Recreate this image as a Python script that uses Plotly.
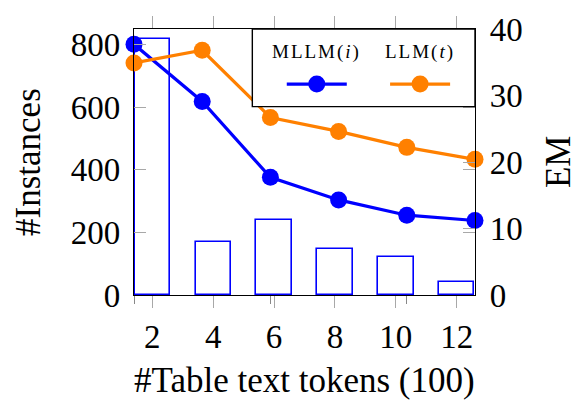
import plotly.graph_objects as go

# Token-length bins (hundreds of table text tokens)
token_bins = [2, 4, 6, 8, 10, 12]
# Number of instances per bin (left axis)
instances = [818, 168, 239, 147, 120, 42]
# Exact-match scores (right axis)
em_mllm = [37.7, 29.1, 17.7, 14.3, 12.0, 11.2]
em_llm = [34.9, 36.8, 26.7, 24.6, 22.2, 20.4]

BLUE = "#0000FF"
ORANGE = "#FF8000"
TICK_GRAY = "#a8a8a8"
FONT = "Liberation Serif"

fig = go.Figure()

fig.add_trace(go.Bar(
    x=token_bins, y=instances, width=1.16,
    marker=dict(color="rgba(0,0,0,0)", line=dict(color=BLUE, width=1.6)),
    xaxis="x", yaxis="y", showlegend=False,
))

fig.add_trace(go.Scatter(
    x=token_bins, y=em_mllm, mode="lines+markers", name="MLLM(i)",
    line=dict(color=BLUE, width=3.2), marker=dict(color=BLUE, size=17),
    xaxis="x2", yaxis="y2", cliponaxis=False, showlegend=False,
))
fig.add_trace(go.Scatter(
    x=token_bins, y=em_llm, mode="lines+markers", name="LLM(t)",
    line=dict(color=ORANGE, width=3.2), marker=dict(color=ORANGE, size=17),
    xaxis="x2", yaxis="y2", cliponaxis=False, showlegend=False,
))

tick_font = dict(family=FONT, size=33, color="black")

fig.update_layout(
    width=579, height=403,
    margin=dict(l=134, r=104, t=23, b=108),
    paper_bgcolor="white", plot_bgcolor="white",
    font=dict(family=FONT, color="black"),
    xaxis=dict(
        range=[1.4, 12.6], tickvals=token_bins, ticktext=[str(v) for v in token_bins],
        ticks="outside", ticklen=12, tickwidth=1.3, tickcolor=TICK_GRAY,
        showline=True, linecolor="black", linewidth=1.4, mirror="ticks",
        showgrid=False, zeroline=False, tickfont=tick_font,
    ),
    xaxis2=dict(
        range=[2, 12], overlaying="x", anchor="y", side="bottom",
        tickvals=[2, 6, 10], ticks="outside", ticklen=8, tickwidth=1.3, tickcolor="#888888",
        showticklabels=False, showgrid=False, zeroline=False, showline=False,
    ),
    yaxis=dict(
        range=[0, 850], tickvals=[0, 200, 400, 600, 800],
        ticks="inside", ticklen=12, tickwidth=1.3, tickcolor=TICK_GRAY,
        showline=True, linecolor="black", linewidth=1.4, mirror="ticks",
        showgrid=False, zeroline=False, tickfont=tick_font, ticklabelstandoff=6,
    ),
    yaxis2=dict(
        range=[0, 40], tickvals=[0, 10, 20, 30, 40], overlaying="y", side="right",
        anchor="x", ticks="inside", ticklen=12, tickwidth=1.3, tickcolor=TICK_GRAY,
        showline=True, linecolor="black", linewidth=1.4,
        showgrid=False, zeroline=False, tickfont=tick_font, ticklabelstandoff=7,
    ),
    bargap=0,
)

# Axis titles
fig.add_annotation(text="#Table text tokens (100)", xref="paper", yref="paper",
                   x=0.5, y=-0.323, xanchor="center", yanchor="middle",
                   showarrow=False, font=dict(family=FONT, size=35))
fig.add_annotation(text="#Instances", xref="paper", yref="paper",
                   x=-0.311, y=0.5, xanchor="center", yanchor="middle", textangle=-90,
                   showarrow=False, font=dict(family=FONT, size=35))
fig.add_annotation(text="EM", xref="paper", yref="paper",
                   x=1.243, y=0.503, xanchor="center", yanchor="middle", textangle=-90,
                   showarrow=False, font=dict(family=FONT, size=35))

# Legend box with labels above the line/marker keys
fig.add_shape(type="rect", xref="paper", yref="paper", x0=0.347, x1=1.0, y0=0.708, y1=1.0,
              fillcolor="white", line=dict(color="black", width=1.4), layer="above")
legend_items = [("MLLM(<i>i</i>)", BLUE, 0.536), ("LLM(<i>t</i>)", ORANGE, 0.839)]
for label, color, cx in legend_items:
    fig.add_annotation(text=f'<span style="letter-spacing:2px">{label}</span>',
                       xref="paper", yref="paper", x=cx, y=0.912,
                       xanchor="center", yanchor="middle", showarrow=False,
                       font=dict(family=FONT, size=19))
    fig.add_shape(type="line", xref="paper", yref="paper", x0=cx - 0.088, x1=cx + 0.088,
                  y0=0.793, y1=0.793, line=dict(color=color, width=3.2), layer="above")
    fig.add_shape(type="circle", xref="paper", yref="paper", xsizemode="pixel", ysizemode="pixel",
                  xanchor=cx, yanchor=0.793, x0=-8.5, x1=8.5, y0=-8.5, y1=8.5,
                  fillcolor=color, line=dict(color=color, width=0), layer="above")

fig.write_html("out.html")
